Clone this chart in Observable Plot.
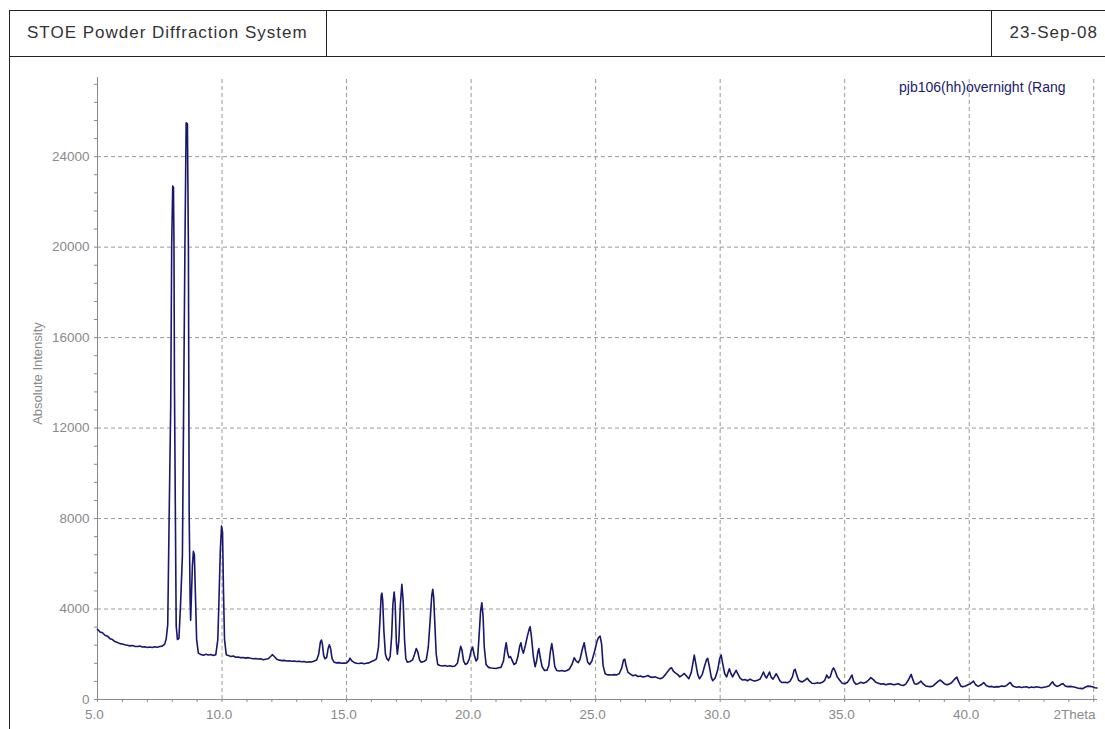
<!DOCTYPE html>
<html>
<head>
<meta charset="utf-8">
<script src="https://cdn.jsdelivr.net/npm/d3@7"></script>
<script src="https://cdn.jsdelivr.net/npm/@observablehq/plot@0.6"></script>
<style>
  body { margin: 0; background: #fff; font-family: "Liberation Sans", Arial, sans-serif; }
  #page { position: relative; width: 1105px; height: 729px; overflow: hidden; background: #fff; }
  .ln { position: absolute; background: #222; }
  .hdr { position: absolute; font-size: 17px; letter-spacing: 1px; line-height: 18px; color: #333; white-space: nowrap; }
  #legend { position: absolute; left: 899px; top: 80px; white-space: nowrap;
            font-size: 14px; line-height: 15px; color: #1a1a6e; }
  #chart { position: absolute; left: 0; top: 60px; }
</style>
</head>
<body>
<div id="page">
  <div class="ln" style="left:9px;top:10px;width:1096px;height:1px"></div>
  <div class="ln" style="left:9px;top:56px;width:1096px;height:1px"></div>
  <div class="ln" style="left:9px;top:10px;width:1px;height:719px"></div>
  <div class="ln" style="left:326px;top:10px;width:1px;height:46px"></div>
  <div class="ln" style="left:991px;top:10px;width:1px;height:46px"></div>
  <div class="hdr" id="title" style="left:27px;top:24px"></div>
  <div class="hdr" id="date" style="right:7px;top:24px"></div>
  <div id="chart"></div>
  <div id="legend"></div>
</div>
<script>
// ---- texts ----
const titleText = "STOE Powder Diffraction System";
const dateText = "23-Sep-08";
const legendText = "pjb106(hh)overnight (Rang";
const yLabel = "Absolute Intensity";
const xEndLabel = "2Theta";

// ---- axis ticks ----
const xMajor = [5, 10, 15, 20, 25, 30, 35, 40, 45];
const xMajorLabels = ["5.0", "10.0", "15.0", "20.0", "25.0", "30.0", "35.0", "40.0", ""];
const xMinor = d3.range(5, 45.5, 1);
const yMajor = [0, 4000, 8000, 12000, 16000, 20000, 24000];
const yMinor = d3.range(0, 27500, 800);
const xDomain = [5, 45.15];
const yDomain = [0, 27500];

// ---- pattern ----
const twoTheta = [
  5.00,5.05,5.10,5.20,5.30,5.40,5.50,5.60,5.70,5.80,5.90,6.00,6.10,6.20,6.30,6.40,6.50,6.60,6.70,6.80,
  6.90,7.00,7.10,7.20,7.30,7.40,7.50,7.60,7.70,7.76,7.82,7.88,7.94,7.98,8.02,8.05,8.07,8.09,8.13,8.16,
  8.21,8.27,8.34,8.41,8.45,8.51,8.56,8.61,8.65,8.68,8.72,8.74,8.81,8.85,8.89,8.93,8.98,9.05,9.15,9.25,
  9.35,9.45,9.55,9.65,9.75,9.83,9.88,9.93,9.98,10.02,10.06,10.10,10.17,10.25,10.35,10.45,10.55,10.65,10.75,10.85,
  10.95,11.05,11.15,11.25,11.35,11.45,11.55,11.65,11.75,11.85,11.95,12.02,12.10,12.20,12.30,12.40,12.50,12.60,12.70,12.80,
  12.90,13.00,13.10,13.20,13.30,13.40,13.50,13.60,13.70,13.80,13.88,13.95,13.99,14.03,14.08,14.13,14.20,14.26,14.31,14.36,
  14.42,14.50,14.60,14.70,14.80,14.90,15.00,15.08,15.14,15.20,15.30,15.40,15.50,15.60,15.70,15.80,15.90,16.00,16.10,16.20,
  16.28,16.34,16.39,16.42,16.45,16.50,16.56,16.62,16.68,16.75,16.81,16.86,16.91,16.95,17.00,17.04,17.10,17.16,17.22,17.27,
  17.33,17.38,17.44,17.55,17.65,17.73,17.80,17.86,17.93,18.00,18.10,18.20,18.28,18.35,18.42,18.46,18.50,18.55,18.60,18.66,
  18.75,18.85,18.95,19.05,19.15,19.25,19.35,19.45,19.52,19.58,19.63,19.70,19.77,19.85,19.93,20.00,20.06,20.12,20.20,20.26,
  20.32,20.38,20.43,20.48,20.53,20.60,20.70,20.80,20.90,21.00,21.10,21.20,21.30,21.36,21.41,21.46,21.52,21.58,21.64,21.72,
  21.80,21.88,21.95,22.00,22.05,22.10,22.18,22.26,22.33,22.37,22.42,22.50,22.57,22.63,22.68,22.72,22.77,22.85,22.95,23.05,
  23.12,23.18,23.24,23.29,23.36,23.44,23.55,23.65,23.75,23.85,23.95,24.05,24.14,24.22,24.30,24.38,24.46,24.54,24.60,24.68,
  24.76,24.85,24.95,25.05,25.12,25.18,25.24,25.30,25.38,25.45,25.55,25.65,25.75,25.85,25.95,26.05,26.12,26.17,26.22,26.30,
  26.40,26.50,26.60,26.70,26.80,26.90,27.00,27.10,27.20,27.30,27.40,27.50,27.60,27.70,27.80,27.90,28.00,28.05,28.12,28.20,
  28.30,28.38,28.48,28.56,28.64,28.74,28.84,28.92,28.96,29.02,29.10,29.17,29.28,29.38,29.46,29.50,29.56,29.64,29.70,29.80,
  29.90,29.98,30.04,30.10,30.18,30.26,30.32,30.37,30.43,30.50,30.57,30.64,30.70,30.80,30.90,31.00,31.10,31.20,31.30,31.40,
  31.50,31.60,31.67,31.74,31.80,31.86,31.93,31.98,32.04,32.12,32.18,32.25,32.32,32.40,32.48,32.60,32.70,32.80,32.90,32.97,
  33.01,33.07,33.15,33.22,33.30,33.40,33.50,33.58,33.68,33.80,33.90,34.00,34.10,34.20,34.28,34.35,34.42,34.50,34.55,34.62,
  34.70,34.80,34.90,35.00,35.10,35.20,35.29,35.36,35.45,35.55,35.65,35.75,35.85,35.95,36.05,36.15,36.25,36.35,36.45,36.55,
  36.65,36.75,36.85,36.95,37.05,37.15,37.25,37.35,37.45,37.55,37.62,37.67,37.73,37.80,37.90,38.00,38.06,38.14,38.25,38.35,
  38.45,38.55,38.65,38.75,38.84,38.92,39.00,39.10,39.20,39.30,39.40,39.50,39.58,39.66,39.74,39.85,39.95,40.05,40.17,40.26,
  40.36,40.48,40.58,40.68,40.80,40.90,41.00,41.10,41.20,41.30,41.40,41.50,41.58,41.65,41.73,41.82,41.92,42.00,42.10,42.20,
  42.30,42.40,42.50,42.60,42.70,42.80,42.90,43.00,43.10,43.20,43.28,43.35,43.42,43.52,43.62,43.70,43.77,43.85,43.95,44.05,
  44.15,44.25,44.35,44.45,44.56,44.65,44.75,44.85,44.95,45.05,45.13
];
const intensity = [
  3100,3050,2980,2950,2840,2800,2690,2650,2560,2520,2470,2450,2420,2400,2370,2390,2350,2340,2360,2320,
  2330,2300,2320,2300,2330,2310,2340,2360,2450,2700,3300,8350,13000,20200,22700,22650,20250,13900,7700,3250,
  2650,2700,4350,6400,11800,20000,25500,25450,20000,8350,4350,3500,5900,6550,6400,4700,2650,2050,1990,1960,
  2000,1970,1990,1950,1980,2650,4500,6550,7670,7400,4700,2650,1980,1950,1900,1920,1870,1880,1850,1860,
  1830,1850,1820,1800,1810,1790,1800,1760,1780,1800,1900,1980,1900,1780,1740,1720,1730,1700,1710,1690,
  1700,1680,1690,1670,1680,1650,1670,1660,1700,1750,2000,2550,2630,2450,1950,1800,1850,2250,2420,2250,
  1800,1650,1620,1630,1600,1610,1620,1700,1830,1720,1640,1600,1590,1610,1580,1600,1620,1680,1720,1800,
  2300,3500,4600,4700,4400,3000,2000,1800,1720,1900,2800,4200,4750,4300,2500,2000,2600,4200,5090,4400,
  2600,1800,1650,1680,1750,2000,2250,2100,1750,1650,1680,1750,2300,3400,4600,4870,4500,3200,2000,1550,
  1500,1480,1500,1470,1490,1460,1480,1600,2000,2350,2200,1700,1550,1600,1800,2150,2320,2000,1700,1800,
  2800,3900,4280,3700,2300,1550,1420,1390,1380,1370,1400,1420,1700,2200,2510,2100,1850,1900,1750,1550,
  1600,1900,2350,2510,2200,2050,2400,2800,3100,3220,2800,1900,1450,1700,2100,2250,1900,1450,1280,1300,
  1500,2100,2470,2100,1450,1280,1260,1280,1250,1280,1350,1550,1850,1700,1630,1800,2200,2510,2100,1650,
  1550,1700,2100,2550,2750,2800,2450,1500,1150,1100,1090,1080,1100,1090,1150,1400,1750,1780,1500,1200,
  1120,1050,1080,1020,1040,1000,1020,1060,990,980,1000,950,920,970,1100,1250,1380,1400,1250,1180,
  1100,1000,1080,1150,1050,920,1200,1700,1965,1600,1100,920,1100,1500,1780,1820,1500,1000,830,950,
  1300,1800,1965,1600,1150,1000,1200,1360,1150,1000,1150,1290,1150,950,860,880,830,900,840,820,
  850,900,1050,1215,1050,950,1100,1215,1000,900,1000,1140,1000,820,750,760,740,800,1000,1300,
  1335,1100,850,800,780,850,940,820,720,710,740,720,760,850,1080,950,1000,1300,1400,1250,
  1000,850,720,700,750,900,1080,800,680,700,760,720,760,850,965,880,760,720,680,700,
  650,680,700,650,670,700,640,620,680,850,1000,1110,900,700,680,750,815,700,600,580,
  570,600,700,800,860,780,700,650,680,750,880,990,780,600,560,600,650,700,815,650,
  580,650,750,620,560,580,540,570,560,600,580,620,700,750,620,560,540,560,530,550,
  560,520,550,530,560,540,520,540,560,600,700,780,650,580,620,680,700,600,570,580,
  560,540,510,490,480,540,590,580,560,520,510
];
const pattern = twoTheta.map((t, i) => ({t, v: intensity[i]}));

document.getElementById("title").textContent = titleText;
document.getElementById("date").textContent = dateText;
document.getElementById("legend").textContent = legendText;

const gray = "#8a8a8a";
const gridColor = "#9a9a9a";
const fnt = "13.5px";

const chart = Plot.plot({
  width: 1105,
  height: 669,
  marginLeft: 97,
  marginRight: 8,
  marginTop: 17,
  marginBottom: 30,
  style: {background: "transparent", color: gray, fontFamily: "'Liberation Sans', Arial, sans-serif"},
  x: {domain: xDomain, ticks: xMinor, tickSize: 3, tickFormat: () => "", label: null, line: false},
  y: {domain: yDomain, ticks: yMinor, tickSize: 3, tickFormat: () => "", label: null, line: false},
  marks: [
    // grid
    Plot.ruleX(xMajor.slice(1), {x: d => d, y1: yDomain[0], y2: yDomain[1], stroke: gridColor, strokeDasharray: "4,3"}),
    Plot.ruleY(yMajor.slice(1), {y: d => d, x1: xDomain[0], x2: xDomain[1], stroke: gridColor, strokeDasharray: "4,3"}),
    // axis lines
    Plot.ruleX([xDomain[0]], {x: d => d, y1: yDomain[0], y2: yDomain[1], stroke: gray}),
    Plot.ruleY([yDomain[0]], {y: d => d, x1: xDomain[0], x2: xDomain[1], stroke: gray}),
    // tick labels
    Plot.text(xMajor, {x: d => d, y: yDomain[0], text: (d, i) => xMajorLabels[i], dy: 15, dx: -3, fill: gray, fontSize: fnt}),
    Plot.text([xEndLabel], {x: xDomain[1], y: yDomain[0], text: d => d, textAnchor: "end", dy: 15, dx: -2, fill: gray, fontSize: fnt}),
    Plot.text(yMajor, {x: xDomain[0], y: d => d, text: d => String(d), textAnchor: "end", dx: -8, fill: gray, fontSize: fnt}),
    Plot.text([yLabel], {frameAnchor: "left", textAnchor: "middle", text: d => d, rotate: -90, dx: -60, dy: -15, fill: gray, fontSize: "13px"}),
    // data
    Plot.line(pattern, {x: "t", y: "v", stroke: "#17176e", strokeWidth: 1.6, strokeLinejoin: "round"})
  ]
});
document.getElementById("chart").appendChild(chart);
</script>
</body>
</html>
